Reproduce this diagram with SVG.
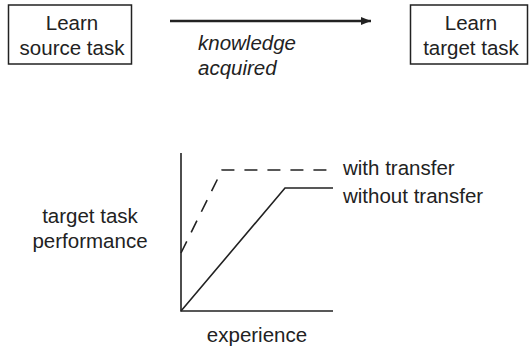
<svg xmlns="http://www.w3.org/2000/svg" width="530" height="347" viewBox="0 0 530 347">
<defs>
<style>
text{font-family:"Liberation Sans",Arial,sans-serif;font-size:20.5px;fill:#222}
.mid{text-anchor:middle}
.box{fill:#fff;stroke:#222;stroke-width:1.5}
.ln{fill:none;stroke:#222;stroke-width:1.6}
.dash{stroke-dasharray:13 10}
</style>
<marker id="ah" viewBox="0 0 10 10" refX="10" refY="5" markerWidth="10" markerHeight="10" markerUnits="userSpaceOnUse" orient="auto">
<path d="M0,1 L10,5 L0,9 Z" fill="#222"/>
</marker>
</defs>
<rect width="530" height="347" fill="#fff"/>
<g id="source">
<rect class="box" x="8.5" y="5" width="123" height="59"/>
<text class="mid" x="72" y="30">Learn</text>
<text class="mid" x="72" y="55">source task</text>
</g>
<g id="target">
<rect class="box" x="410.5" y="5" width="117" height="59"/>
<text class="mid" x="471" y="30">Learn</text>
<text class="mid" x="471" y="55">target task</text>
</g>
<g id="connectors">
<line x1="170" y1="21" x2="371" y2="21" stroke="#222" stroke-width="2.5" marker-end="url(#ah)"/>
<text x="198" y="50" font-style="italic">knowledge</text>
<text x="198" y="75" font-style="italic">acquired</text>
</g>
<g id="chart">
<polyline class="ln" points="181,153 181,311 333,311"/>
<polyline class="ln dash" points="181,253 222,170 327,170"/>
<polyline class="ln" points="181,311 285,188 333,188"/>
<text x="343" y="175">with transfer</text>
<text x="343" y="203">without transfer</text>
<text class="mid" x="90" y="223">target task</text>
<text class="mid" x="90" y="248">performance</text>
<text class="mid" x="257" y="342">experience</text>
</g>
</svg>
